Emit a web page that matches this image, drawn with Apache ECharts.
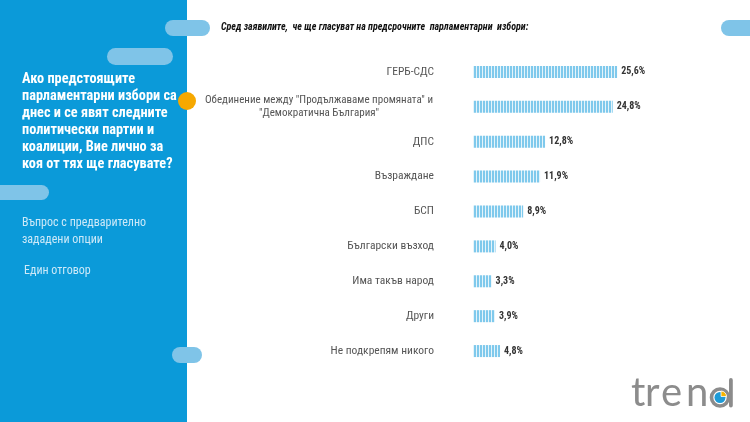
<!DOCTYPE html>
<html>
<head>
<meta charset="utf-8">
<script src="https://cdn.jsdelivr.net/npm/echarts@6/dist/echarts.min.js"></script>
<style>
  html, body { margin: 0; padding: 0; background: #fff; }
  #chart { width: 750px; height: 422px; }
</style>
</head>
<body>
<div id="chart"></div>
<script>
(function() {
  var condensed = "'Roboto Condensed', 'Liberation Sans Narrow', 'DejaVu Sans Condensed', Roboto, sans-serif";

  // --- data ---
  var parties = [
    'ГЕРБ-СДС',
    'Обединение между "Продължаваме промяната" и\n"Демократична България"',
    'ДПС',
    'Възраждане',
    'БСП',
    'Български възход',
    'Има такъв народ',
    'Други',
    'Не подкрепям никого'
  ];
  var shares = [25.6, 24.8, 12.8, 11.9, 8.9, 4.0, 3.3, 3.9, 4.8];

  var heading = 'Сред заявилите,  че ще гласуват на предсрочните  парламентарни  избори:';
  var question = 'Ако предстоящите\nпарламентарни избори са\nднес и се явят следните\nполитически партии и\nкоалиции, Вие лично за\nкоя от тях ще гласувате?';
  var note1 = 'Въпрос с предварително\nзададени опции';
  var note2 = 'Един отговор';

  // striped fill for the bars
  var tile = document.createElement('canvas');
  tile.width = 3; tile.height = 4;
  var ctx = tile.getContext('2d');
  ctx.fillStyle = '#7fc9ec';
  ctx.fillRect(0, 0, 3, 4);
  ctx.fillStyle = '#e4f4fb';
  ctx.fillRect(2, 0, 1, 4);

  var chart = echarts.init(document.getElementById('chart'), null, { renderer: 'canvas' });

  var panelBlue = '#0b9ad9';
  var pill = '#7fc4e8';
  var logoGrey = '#8c8c8c';
  var logoFont = "Lato, 'Open Sans', sans-serif";

  function letter(ch, x) {
    return {
      type: 'text', z: 2, silent: true, x: x, y: 373,
      style: { text: ch, fill: logoGrey, fontFamily: logoFont, fontSize: 40, fontWeight: 'normal', verticalAlign: 'top', align: 'left' }
    };
  }

  chart.setOption({
    animation: false,
    backgroundColor: '#fff',
    title: {
      text: heading,
      left: 216,
      top: 17,
      textStyle: {
        fontFamily: condensed,
        fontSize: 10,
        fontStyle: 'italic',
        fontWeight: 'bold',
        color: '#111'
      }
    },
    grid: {
      left: 473,
      right: 108,
      top: 54.5,
      bottom: 53.5
    },
    xAxis: {
      type: 'value',
      min: 0,
      max: 30,
      show: false
    },
    yAxis: {
      type: 'category',
      inverse: true,
      data: parties,
      axisLine: { show: false },
      axisTick: { show: false },
      axisLabel: {
        margin: 39,
        color: '#555',
        fontFamily: condensed,
        fontSize: 11.5,
        lineHeight: 13,
        formatter: function(v) {
          if (v.indexOf('\n') < 0) return v;
          return v.split('\n').map(function(s) { return '{c|' + s + '}'; }).join('\n');
        },
        rich: {
          c: { width: 230, align: 'center', color: '#555', fontFamily: condensed, fontSize: 11, lineHeight: 13 }
        }
      }
    },
    series: [{
      type: 'bar',
      data: shares,
      barWidth: 12,
      itemStyle: { color: { image: tile, repeat: 'repeat' } },
      label: {
        show: true,
        position: 'right',
        distance: 4,
        color: '#333',
        fontFamily: condensed,
        fontSize: 10,
        fontWeight: 'bold',
        formatter: function(p) { return p.value.toFixed(1).replace('.', ',') + '%'; }
      }
    }],
    graphic: [
      { type: 'rect', z: 0, silent: true, shape: { x: 0, y: 0, width: 187, height: 422 }, style: { fill: panelBlue } },
      { type: 'rect', z: 1, silent: true, shape: { x: 165, y: 20, width: 45, height: 16, r: 8 }, style: { fill: pill } },
      { type: 'rect', z: 1, silent: true, shape: { x: 107, y: 48, width: 66, height: 17, r: 8.5 }, style: { fill: pill } },
      { type: 'rect', z: 1, silent: true, shape: { x: -10, y: 185, width: 59, height: 15, r: 7.5 }, style: { fill: pill } },
      { type: 'rect', z: 1, silent: true, shape: { x: 172, y: 347, width: 30, height: 16, r: 8 }, style: { fill: pill } },
      { type: 'rect', z: 1, silent: true, shape: { x: 721, y: 20, width: 45, height: 16, r: 8 }, style: { fill: pill } },
      { type: 'circle', z: 2, silent: true, shape: { cx: 187, cy: 101, r: 9 }, style: { fill: '#f6a800' } },
      {
        type: 'text', z: 2, silent: true, left: 22, top: 71,
        style: { text: question, fill: '#fff', fontFamily: condensed, fontWeight: 'bold', fontSize: 14.3, lineHeight: 17 }
      },
      {
        type: 'text', z: 2, silent: true, left: 22, top: 214,
        style: { text: note1, fill: '#cde9f8', fontFamily: condensed, fontSize: 12, lineHeight: 17 }
      },
      {
        type: 'text', z: 2, silent: true, left: 24, top: 265,
        style: { text: note2, fill: '#cde9f8', fontFamily: condensed, fontSize: 12 }
      },
      // logo
      letter('t', 631),
      letter('r', 645),
      letter('e', 661),
      letter('n', 686),
      { type: 'circle', z: 2, silent: true, shape: { cx: 720, cy: 397.5, r: 8.5 }, style: { fill: 'none', stroke: logoGrey, lineWidth: 3.6 } },
      { type: 'rect', z: 2, silent: true, shape: { x: 729, y: 378, width: 3.8, height: 29.5, r: 1.9 }, style: { fill: logoGrey } },
      { type: 'circle', z: 3, silent: true, shape: { cx: 720, cy: 397.5, r: 5.5 }, style: { fill: '#1e9bd7' } },
      { type: 'sector', z: 4, silent: true, shape: { cx: 721, cy: 396.5, r: 5.5, startAngle: -Math.PI / 2, endAngle: 0 }, style: { fill: '#f6b400', stroke: '#fff', lineWidth: 0.8 } }
    ]
  });

  window.addEventListener('resize', function() { chart.resize(); });
})();
</script>
</body>
</html>
